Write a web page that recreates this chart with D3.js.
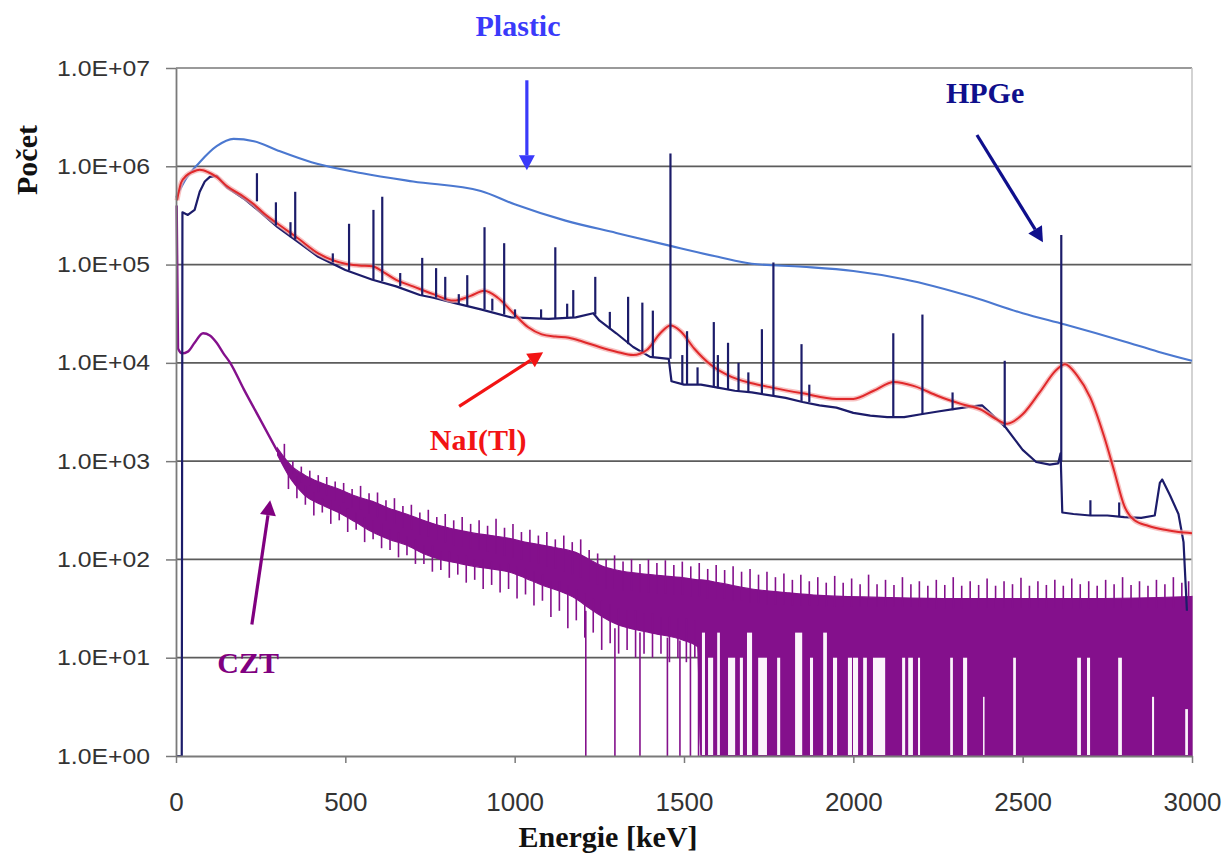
<!DOCTYPE html>
<html><head><meta charset="utf-8">
<script src="https://cdn.jsdelivr.net/npm/d3@7/dist/d3.min.js"></script>
<style>body{margin:0;background:#fff}svg{display:block}</style>
</head><body>
<svg id="chart" width="1231" height="853"></svg>
<script>
// ---------- data ----------
const xTicks = [0, 500, 1000, 1500, 2000, 2500, 3000];
const yTicks = [1, 10, 100, 1e3, 1e4, 1e5, 1e6, 1e7];
const yTickLabels = ["1.0E+00", "1.0E+01", "1.0E+02", "1.0E+03", "1.0E+04", "1.0E+05", "1.0E+06", "1.0E+07"];

// Plastic scintillator
const plasticE = [0, 30, 70, 120, 170, 230, 300, 400, 550, 700, 900, 1000, 1150, 1300, 1460, 1600, 1700, 1850, 2000, 2150, 2350, 2500, 2625, 2800, 2900, 3000];
const plasticV = [4.8e5, 7.5e5, 1.1e6, 1.6e6, 1.9e6, 1.8e6, 1.45e6, 1.1e6, 8.5e5, 7e5, 5.6e5, 4.1e5, 2.8e5, 2.1e5, 1.55e5, 1.2e5, 1.02e5, 9.5e4, 8.6e4, 7.1e4, 4.7e4, 3.2e4, 2.45e4, 1.65e4, 1.3e4, 1.05e4];

// NaI(Tl)
const naiE = [3, 15, 30, 50, 70, 95, 120, 150, 200, 230, 260, 300, 360, 420, 500, 540, 580, 610, 650, 700, 760, 820, 870, 910, 950, 1000, 1040, 1080, 1120, 1160, 1200, 1250, 1300, 1350, 1390, 1430, 1460, 1490, 1530, 1580, 1640, 1700, 1760, 1850, 1950, 2000, 2060, 2120, 2180, 2250, 2320, 2380, 2420, 2455, 2500, 2550, 2600, 2625, 2660, 2700, 2740, 2770, 2800, 2830, 2870, 2920, 2960, 3000];
const naiV = [4.5e5, 6.8e5, 8e5, 8.8e5, 9.2e5, 8.7e5, 7.8e5, 6.3e5, 4.9e5, 4.1e5, 3.3e5, 2.6e5, 1.85e5, 1.3e5, 1.02e5, 9.8e4, 9.6e4, 8.5e4, 7e4, 6e4, 5e4, 4.3e4, 4.8e4, 5.4e4, 4.6e4, 3.1e4, 2.3e4, 1.95e4, 1.85e4, 1.8e4, 1.65e4, 1.45e4, 1.3e4, 1.2e4, 1.35e4, 2e4, 2.4e4, 2.1e4, 1.4e4, 9.5e3, 7.2e3, 6.2e3, 5.6e3, 4.9e3, 4.3e3, 4.3e3, 5.2e3, 6.4e3, 5.8e3, 4.6e3, 3.8e3, 3.3e3, 2.7e3, 2.4e3, 3e3, 5e3, 8.5e3, 9.7e3, 7.5e3, 4.4e3, 1.8e3, 800, 350, 250, 220, 200, 190, 185];

// HPGe continuum
const hpgeE = [0, 17, 19, 35, 55, 70, 85, 100, 120, 150, 200, 250, 300, 360, 420, 500, 580, 650, 720, 760, 830, 900, 990, 1100, 1180, 1232, 1250, 1300, 1350, 1400, 1455, 1463, 1500, 1550, 1600, 1650, 1700, 1750, 1800, 1850, 1900, 1950, 2000, 2050, 2100, 2150, 2200, 2250, 2300, 2350, 2380, 2400, 2450, 2500, 2540, 2580, 2605, 2612, 2617, 2650, 2700, 2750, 2800, 2850, 2890, 2905, 2912, 2935, 2960, 2975, 2985];
const hpgeV = [1, 1, 3.4e5, 3.2e5, 3.6e5, 5.5e5, 7e5, 7.8e5, 8e5, 6.1e5, 4.7e5, 3.4e5, 2.4e5, 1.7e5, 1.2e5, 8.8e4, 7e4, 6e4, 4.9e4, 4.6e4, 4e4, 3.5e4, 2.9e4, 2.8e4, 2.9e4, 3.2e4, 2.7e4, 2e4, 1.45e4, 1.15e4, 1.1e4, 6.5e3, 6e3, 6e3, 5.6e3, 5.2e3, 5e3, 4.7e3, 4.4e3, 4e3, 3.7e3, 3.5e3, 3.1e3, 2.9e3, 2.8e3, 2.8e3, 3e3, 3.2e3, 3.4e3, 3.6e3, 3.7e3, 3.2e3, 2.2e3, 1.3e3, 980, 920, 950, 1.2e3, 300, 290, 280, 280, 270, 265, 280, 600, 650, 450, 290, 150, 30];
// HPGe photopeaks: [energy keV, base count, top count]
const hpgePeaks = [
  [239, 4.4e5, 8.5e5], [295, 2.5e5, 4.3e5], [338, 1.9e5, 2.7e5], [352, 1.8e5, 5.5e5], [463, 1.05e5, 1.3e5],
  [511, 8.7e4, 2.6e5], [583, 7e4, 3.6e5], [609, 6.8e4, 4.9e5], [662, 6e4, 8.2e4], [727, 4.9e4, 1.17e5],
  [768, 4.6e4, 9.2e4], [795, 4.4e4, 7.5e4], [835, 4e4, 5e4], [860, 3.8e4, 7.8e4], [911, 3.5e4, 2.4e5],
  [934, 3.4e4, 4.5e4], [969, 3.1e4, 1.65e5], [1001, 2.9e4, 3.5e4], [1078, 2.8e4, 3.5e4], [1120, 2.8e4, 1.5e5],
  [1155, 2.85e4, 4e4], [1173, 2.9e4, 5.5e4], [1238, 3.1e4, 7.5e4], [1281, 2.2e4, 3.3e4], [1335, 1.55e4, 4.7e4],
  [1377, 1.3e4, 4.1e4], [1408, 1.15e4, 3.4e4], [1460, 1.1e4, 1.35e6], [1495, 6e3, 1.2e4], [1509, 6e3, 2.1e4],
  [1540, 6e3, 9e3], [1588, 5.6e3, 2.6e4], [1600, 5.5e3, 1.2e4], [1630, 5.3e3, 1.6e4], [1661, 5.2e3, 1e4],
  [1690, 5e3, 8e3], [1730, 4.8e3, 2.2e4], [1764, 4.6e3, 1.05e5], [1847, 4.1e3, 1.55e4], [1870, 4e3, 6e3],
  [2118, 2.8e3, 2e4], [2204, 3e3, 3.1e4], [2293, 3.3e3, 5e3], [2447, 2.2e3, 1.05e4], [2614, 1.0e3, 2.0e5],
  [2700, 280, 400], [2785, 270, 380]
];

// CZT: low-energy single curve
const cztLineE = [2, 6, 18, 35, 55, 80, 100, 120, 140, 160, 200, 250, 300];
const cztLineV = [4e5, 1.4e4, 1.25e4, 1.3e4, 1.6e4, 2e4, 1.9e4, 1.6e4, 1.25e4, 1e4, 5.4e3, 2.6e3, 1.25e3];
// CZT: noisy band (upper / lower edge of the dense trace)
const cztBandE  = [300, 340, 380, 430, 480, 530, 580, 630, 680, 730, 780, 830, 880, 930, 980, 1030, 1080, 1130, 1180, 1220, 1260, 1300, 1400, 1500, 1540, 1550, 1600, 1700, 1800, 1900, 2100, 2300, 2500, 2700, 2900, 3000];
const cztBandHi = [1350, 900, 720, 600, 520, 440, 390, 330, 290, 250, 220, 200, 185, 175, 165, 150, 140, 130, 118, 100, 85, 78, 70, 65, 62, 62, 58, 50, 46, 43, 41, 40, 40, 40, 41, 42];
const cztBandLo = [1150, 650, 450, 360, 300, 240, 190, 160, 140, 115, 100, 92, 85, 80, 75, 65, 55, 48, 40, 32, 26, 22, 18, 15, 13, 1, 1, 1, 1, 1, 1, 1, 1, 1, 1, 1];
// CZT: single-bin excursions above the band [energy, low, high]
const cztSpikesUp = [
  [320, 1000, 1500], [345, 750, 1000], [370, 600, 880], [395, 560, 800], [420, 480, 720], [445, 450, 690], [470, 400, 620],
  [495, 380, 600], [520, 340, 520], [545, 320, 560], [570, 290, 470], [595, 270, 480], [620, 250, 400], [645, 230, 420],
  [670, 210, 350], [695, 200, 360], [720, 180, 300], [745, 170, 320], [770, 160, 270], [795, 150, 290], [820, 140, 250],
  [845, 135, 270], [870, 130, 230], [895, 125, 250], [920, 120, 220], [945, 115, 260], [970, 110, 210], [995, 105, 230],
  [1020, 100, 190], [1045, 95, 200], [1070, 90, 175], [1095, 85, 190], [1120, 80, 160], [1145, 75, 175], [1170, 70, 150],
  [1195, 65, 160], [1220, 60, 125], [1245, 55, 115], [1270, 50, 100], [1295, 50, 110], [1320, 48, 95], [1345, 48, 100],
  [1370, 46, 90], [1395, 46, 100], [1420, 45, 92], [1445, 45, 98], [1470, 44, 88], [1495, 44, 95], [1520, 42, 85],
  [1545, 42, 92], [1570, 40, 80], [1595, 40, 88], [1620, 40, 78], [1645, 38, 85], [1670, 38, 75], [1695, 36, 80],
  [1720, 36, 70], [1745, 35, 75], [1770, 35, 66], [1795, 35, 72], [1820, 34, 62], [1845, 34, 70], [1870, 34, 60],
  [1895, 34, 66], [1920, 33, 58], [1945, 33, 68], [1970, 33, 58], [1995, 33, 64], [2020, 33, 56], [2045, 33, 70],
  [2070, 33, 56], [2095, 33, 62], [2120, 33, 55], [2145, 33, 66], [2170, 33, 56], [2195, 33, 60], [2220, 32, 54],
  [2245, 32, 62], [2270, 32, 55], [2295, 32, 66], [2320, 32, 54], [2345, 32, 60], [2370, 32, 55], [2395, 32, 64],
  [2420, 32, 54], [2445, 32, 60], [2470, 32, 56], [2495, 32, 65], [2520, 32, 54], [2545, 32, 60], [2570, 32, 55],
  [2595, 32, 62], [2620, 32, 54], [2645, 32, 64], [2670, 32, 56], [2695, 32, 60], [2720, 32, 54], [2745, 32, 62],
  [2770, 32, 56], [2795, 32, 66], [2820, 32, 55], [2845, 32, 60], [2870, 32, 54], [2895, 32, 62], [2920, 32, 56],
  [2945, 32, 66], [2970, 32, 58], [2990, 32, 60]
];
// CZT: single-bin excursions below the band [energy, low, high]
const cztSpikesDown = [
  [332, 520, 800], [357, 420, 700], [382, 360, 560], [407, 280, 480], [432, 300, 420], [457, 230, 400], [482, 250, 350],
  [507, 190, 330], [532, 200, 300], [557, 150, 270], [582, 160, 250], [607, 130, 230], [632, 125, 200], [657, 105, 190],
  [682, 110, 170], [707, 90, 160], [732, 90, 140], [757, 75, 140], [782, 78, 120], [807, 65, 120], [832, 70, 110],
  [857, 58, 110], [882, 62, 100], [907, 50, 100], [932, 55, 95], [957, 46, 90], [982, 50, 90], [1007, 40, 85],
  [1032, 44, 80], [1057, 34, 75], [1082, 38, 70], [1107, 26, 60], [1132, 30, 60], [1157, 20, 55], [1182, 24, 50],
  [1207, 16, 45], [1232, 18, 40], [1257, 12, 38], [1282, 14, 35], [1307, 11, 32], [1332, 12, 30], [1357, 10, 30],
  [1382, 11, 28], [1407, 10, 28], [1432, 11, 26], [1457, 9, 26], [1482, 10, 25], [1507, 9, 25], [1532, 10, 24]
];
// CZT: empty bins (drop to zero) [energy, level above]
const cztZeroDrops = [[1210, 30], [1296, 20], [1370, 18], [1451, 16], [1488, 15], [1519, 15], [1543, 14]];
// CZT: stretches without empty bins in the dense high-energy region [from keV, to keV, level]
const cztGaps = [
  [1553, 1562, 18], [1571, 1586, 10], [1598, 1606, 18], [1630, 1651, 10], [1665, 1674, 10], [1686, 1701, 18],
  [1719, 1745, 10], [1775, 1784, 10], [1828, 1849, 18], [1872, 1881, 10], [1911, 1922, 18], [1940, 1952, 10],
  [1984, 1996, 10], [1999, 2014, 10], [2029, 2040, 10], [2058, 2094, 10], [2144, 2153, 10], [2162, 2176, 10],
  [2191, 2197, 10], [2286, 2294, 10], [2324, 2336, 10], [2383, 2386, 4], [2472, 2480, 10], [2661, 2672, 10],
  [2690, 2699, 10], [2782, 2793, 10], [2882, 2888, 4], [2980, 2988, 3]
];

// annotations (data coordinates: keV, count)
const labelNames  = ["Plastic", "HPGe", "NaI(Tl)", "CZT"];
const labelE      = [1010, 2389, 892, 213];
const labelV      = [2.1e7, 4.4e6, 1.29e3, 7.07];
const labelColors = ["#3a3afa", "#0f0f8c", "#f21414", "#800080"];
const arrowFrom   = [[1036, 7.5e6], [2365, 2.08e6], [836, 3.6e3], [224, 21.8]];
const arrowTo     = [[1036, 9.1e5], [2560, 1.69e5], [1084, 1.28e4], [278, 399]];

// ---------- chart ----------
const W = 1231, H = 853;
const margin = {left: 176, right: 39, top: 68, bottom: 97};
const svg = d3.select("#chart");
const x = d3.scaleLinear().domain([0, 3000]).range([margin.left, W - margin.right]);
const y = d3.scaleLog().domain([1, 1e7]).range([H - margin.bottom, margin.top]);

const plotG = svg.append("g");

// horizontal gridlines
plotG.selectAll("line.grid").data(yTicks.slice(1)).join("line")
  .attr("x1", x(0)).attr("x2", x(3000))
  .attr("y1", d => y(d)).attr("y2", d => y(d))
  .attr("stroke", d => d === 1e7 ? "#9a9a9a" : "#5c5c5c")
  .attr("stroke-width", 1.8);
// right border
plotG.append("line").attr("x1", x(3000)).attr("x2", x(3000)).attr("y1", y(1e7)).attr("y2", y(1))
  .attr("stroke", "#c4c4c4").attr("stroke-width", 1.5);

// --- CZT ---
const cztColor = "#84108c";
const band = cztBandE.map((e, i) => ({e, hi: cztBandHi[i], lo: cztBandLo[i]}));
plotG.append("path").datum(band)
  .attr("d", d3.area().x(d => x(d.e)).y0(d => y(d.lo)).y1(d => y(d.hi)).curve(d3.curveMonotoneX))
  .attr("fill", cztColor).attr("stroke", cztColor).attr("stroke-width", 1.2);
plotG.selectAll("rect.gap").data(cztGaps).join("rect")
  .attr("x", d => x(d[0])).attr("width", d => Math.max(1.5, x(d[1]) - x(d[0])))
  .attr("y", d => y(d[2])).attr("height", d => y(1) - 1 - y(d[2]))
  .attr("fill", "#fbf4fb");
plotG.selectAll("line.spkU").data(cztSpikesUp).join("line")
  .attr("x1", d => x(d[0])).attr("x2", d => x(d[0]))
  .attr("y1", d => y(d[1])).attr("y2", d => y(d[2]))
  .attr("stroke", cztColor).attr("stroke-width", 1.6);
plotG.selectAll("line.spkD").data(cztSpikesDown).join("line")
  .attr("x1", d => x(d[0])).attr("x2", d => x(d[0]))
  .attr("y1", d => y(d[1])).attr("y2", d => y(d[2]))
  .attr("stroke", cztColor).attr("stroke-width", 1.6);
plotG.selectAll("line.drop").data(cztZeroDrops).join("line")
  .attr("x1", d => x(d[0])).attr("x2", d => x(d[0]))
  .attr("y1", y(1)).attr("y2", d => y(d[1]))
  .attr("stroke", cztColor).attr("stroke-width", 1.6);
plotG.append("path").datum(cztLineE.map((e, i) => [e, cztLineV[i]]))
  .attr("d", d3.line().x(d => x(d[0])).y(d => y(d[1])).curve(d3.curveMonotoneX))
  .attr("fill", "none").attr("stroke", cztColor).attr("stroke-width", 2.4);

// --- Plastic ---
plotG.append("path").datum(plasticE.map((e, i) => [e, plasticV[i]]))
  .attr("d", d3.line().x(d => x(d[0])).y(d => y(d[1])).curve(d3.curveMonotoneX))
  .attr("fill", "none").attr("stroke", "#4b78d0").attr("stroke-width", 2.1);

// --- HPGe continuum ---
const hpgeColor = "#1c1c6a";
plotG.append("path").datum(hpgeE.map((e, i) => [e, hpgeV[i]]))
  .attr("d", d3.line().x(d => x(d[0])).y(d => y(d[1])))
  .attr("fill", "none").attr("stroke", hpgeColor).attr("stroke-width", 2.2).attr("stroke-linejoin", "round");

// --- NaI(Tl) ---
const naiLine = d3.line().x(d => x(d[0])).y(d => y(d[1])).curve(d3.curveMonotoneX);
const naiData = naiE.map((e, i) => [e, naiV[i]]);
plotG.append("path").datum(naiData).attr("d", naiLine)
  .attr("fill", "none").attr("stroke", "#f4a6a6").attr("stroke-width", 5).attr("stroke-opacity", 0.7);
plotG.append("path").datum(naiData).attr("d", naiLine)
  .attr("fill", "none").attr("stroke", "#e0282a").attr("stroke-width", 2);

// --- HPGe peaks ---
plotG.selectAll("line.peak").data(hpgePeaks).join("line")
  .attr("x1", d => x(d[0])).attr("x2", d => x(d[0]))
  .attr("y1", d => y(d[1])).attr("y2", d => y(d[2]))
  .attr("stroke", hpgeColor).attr("stroke-width", 2.2);

// ---------- axes ----------
const yAxis = d3.axisLeft(y).tickValues(yTicks).tickFormat((d, i) => yTickLabels[i])
  .tickSizeInner(10).tickSizeOuter(0).tickPadding(16);
const gy = svg.append("g").attr("transform", `translate(${margin.left},0)`).call(yAxis);
gy.select(".domain").attr("stroke", "#7a7a7a").attr("stroke-width", 1.8);
gy.selectAll(".tick line").attr("stroke", "#7a7a7a").attr("stroke-width", 1.5);
gy.selectAll(".tick text").attr("font-family", "Liberation Sans, Arial, sans-serif")
  .attr("font-size", 22).attr("fill", "#333")
  .attr("textLength", 93).attr("lengthAdjust", "spacingAndGlyphs");

const xAxis = d3.axisBottom(x).tickValues(xTicks).tickFormat(d3.format("d"))
  .tickSizeInner(7).tickSizeOuter(0).tickPadding(30);
const gx = svg.append("g").attr("transform", `translate(0,${y(1)})`).call(xAxis);
gx.select(".domain").attr("stroke", "#7a7a7a").attr("stroke-width", 1.8);
gx.selectAll(".tick line").attr("stroke", "#7a7a7a").attr("stroke-width", 1.5);
gx.selectAll(".tick text").attr("font-family", "Liberation Sans, Arial, sans-serif")
  .attr("font-size", 26).attr("fill", "#333");

// axis titles
svg.append("text").attr("x", 608).attr("y", 847)
  .attr("text-anchor", "middle").attr("font-family", "Liberation Serif, Times New Roman, serif")
  .attr("font-weight", "bold").attr("font-size", 30).attr("fill", "#111").text("Energie [keV]");
svg.append("text").attr("transform", "translate(37,160) rotate(-90)")
  .attr("text-anchor", "middle").attr("font-family", "Liberation Serif, Times New Roman, serif")
  .attr("font-weight", "bold").attr("font-size", 30).attr("fill", "#111").text("Počet");

// ---------- annotations ----------
const annG = svg.append("g");
labelNames.forEach((name, i) => {
  annG.append("text").attr("x", x(labelE[i])).attr("y", y(labelV[i]))
    .attr("text-anchor", "middle").attr("font-family", "Liberation Serif, Times New Roman, serif")
    .attr("font-weight", "bold").attr("font-size", 30).attr("fill", labelColors[i]).text(name);
  const x1 = x(arrowFrom[i][0]), y1 = y(arrowFrom[i][1]);
  const x2 = x(arrowTo[i][0]), y2 = y(arrowTo[i][1]);
  const ang = Math.atan2(y2 - y1, x2 - x1);
  const headL = 15, headW = 8;
  const bx = x2 - headL * Math.cos(ang), by = y2 - headL * Math.sin(ang);
  annG.append("line").attr("x1", x1).attr("y1", y1).attr("x2", bx).attr("y2", by)
    .attr("stroke", labelColors[i]).attr("stroke-width", 3.2);
  const px = -Math.sin(ang), py = Math.cos(ang);
  annG.append("polygon")
    .attr("points", [[x2, y2], [bx + headW * px, by + headW * py], [bx - headW * px, by - headW * py]].map(p => p.join(",")).join(" "))
    .attr("fill", labelColors[i]);
});
</script>
</body></html>
